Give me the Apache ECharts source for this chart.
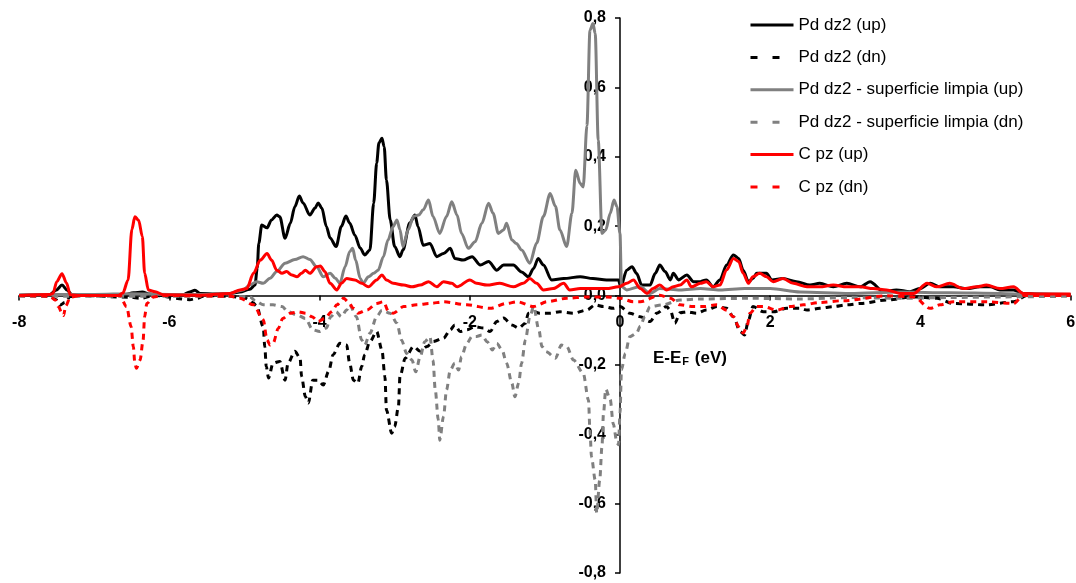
<!DOCTYPE html>
<html>
<head>
<meta charset="utf-8">
<title>DOS Pd dz2 / C pz</title>
<script src="https://cdn.jsdelivr.net/npm/echarts@6/dist/echarts.min.js"></script>
<style>
  html, body { margin: 0; padding: 0; background: #ffffff; }
  #chart { width: 1076px; height: 583px; }
</style>
</head>
<body>
<div id="chart"></div>
<script>
// Projected density of states, energies relative to the Fermi level (eV)
const xTicks = [-8, -6, -4, -2, 0, 2, 4, 6];
const yTicks = [-0.8, -0.6, -0.4, -0.2, 0, 0.2, 0.4, 0.6, 0.8];

const seriesNames = [
  'Pd dz2 (up)',
  'Pd dz2 (dn)',
  'Pd dz2 - superficie limpia (up)',
  'Pd dz2 - superficie limpia (dn)',
  'C pz (up)',
  'C pz (dn)'
];

// Pd dz2, spin up
const pdDz2Up = [
  [-8, 0], [-7.59, 0.003], [-7.51, 0.015], [-7.43, 0.03], [-7.36, 0.015], [-7.3, 0.003], [-7.19, 0],
  [-6.59, 0.002], [-6.48, 0.008], [-6.36, 0.01], [-6.26, 0.004], [-6.13, 0],
  [-5.82, 0.002], [-5.73, 0.01], [-5.66, 0.015], [-5.59, 0.006], [-5.39, 0.004], [-5.19, 0.006],
  [-5.06, 0.01], [-4.93, 0.018], [-4.86, 0.03], [-4.83, 0.08], [-4.81, 0.15], [-4.77, 0.203],
  [-4.7, 0.195], [-4.64, 0.218], [-4.57, 0.232], [-4.53, 0.227], [-4.46, 0.165], [-4.39, 0.208],
  [-4.33, 0.256], [-4.27, 0.287], [-4.22, 0.267], [-4.13, 0.232], [-4.06, 0.252], [-4.02, 0.267],
  [-3.97, 0.252], [-3.91, 0.199], [-3.86, 0.166], [-3.78, 0.141], [-3.71, 0.199], [-3.65, 0.229],
  [-3.6, 0.209], [-3.53, 0.174], [-3.46, 0.137], [-3.4, 0.117], [-3.33, 0.131], [-3.28, 0.266],
  [-3.24, 0.382], [-3.21, 0.44], [-3.17, 0.453], [-3.14, 0.429], [-3.11, 0.333], [-3.06, 0.218],
  [-3.0, 0.141], [-2.93, 0.112], [-2.89, 0.131], [-2.8, 0.209], [-2.73, 0.232], [-2.69, 0.199],
  [-2.62, 0.145], [-2.53, 0.15], [-2.44, 0.112], [-2.35, 0.121], [-2.26, 0.136], [-2.2, 0.107],
  [-2.09, 0.102], [-1.97, 0.112], [-1.86, 0.088], [-1.75, 0.098], [-1.64, 0.073], [-1.55, 0.088],
  [-1.42, 0.088], [-1.31, 0.068], [-1.22, 0.054], [-1.15, 0.078], [-1.09, 0.107], [-1.02, 0.088],
  [-0.91, 0.045], [-0.75, 0.049], [-0.53, 0.054], [-0.36, 0.049], [-0.18, 0.045], [-0.02, 0.045],
  [0.01, 0.025], [0.09, 0.073], [0.16, 0.083], [0.22, 0.064], [0.29, 0.03], [0.4, 0.03],
  [0.47, 0.064], [0.53, 0.088], [0.6, 0.069], [0.67, 0.045], [0.71, 0.064], [0.78, 0.045],
  [0.89, 0.059], [0.98, 0.04], [1.07, 0.04], [1.15, 0.045], [1.24, 0.025], [1.33, 0.045],
  [1.42, 0.088], [1.51, 0.117], [1.58, 0.107], [1.64, 0.073], [1.71, 0.04], [1.77, 0.049],
  [1.82, 0.064], [1.95, 0.064], [2.02, 0.045], [2.17, 0.049], [2.35, 0.04], [2.53, 0.03],
  [2.66, 0.035], [2.84, 0.025], [3.02, 0.035], [3.2, 0.025], [3.33, 0.04], [3.51, 0.011],
  [3.68, 0.016], [3.86, 0.011], [3.99, 0.02], [4.13, 0.035], [4.26, 0.025], [4.44, 0.025],
  [4.62, 0.02], [4.79, 0.025], [4.93, 0.025], [5.06, 0.016], [5.24, 0.016], [5.37, 0.006],
  [5.55, 0.004], [6, 0.003]
];

// Pd dz2, spin down
const pdDz2Dn = [
  [-8, 0], [-7.59, -0.002], [-7.51, -0.012], [-7.46, -0.028], [-7.39, -0.02], [-7.32, -0.003], [-7.19, 0],
  [-6.52, -0.005], [-6.39, -0.008], [-6.19, 0], [-5.73, -0.012], [-5.63, -0.008], [-5.53, 0],
  [-5.19, -0.002], [-4.99, -0.008], [-4.89, -0.02], [-4.84, -0.03], [-4.75, -0.09], [-4.73, -0.148],
  [-4.71, -0.205], [-4.68, -0.238], [-4.62, -0.195], [-4.53, -0.19], [-4.46, -0.244], [-4.42, -0.195],
  [-4.33, -0.161], [-4.26, -0.18], [-4.24, -0.233], [-4.19, -0.291], [-4.15, -0.31], [-4.09, -0.244],
  [-4.02, -0.244], [-3.95, -0.258], [-3.88, -0.219], [-3.82, -0.171], [-3.73, -0.138], [-3.64, -0.143],
  [-3.6, -0.195], [-3.55, -0.244], [-3.49, -0.253], [-3.44, -0.205], [-3.4, -0.171], [-3.33, -0.133],
  [-3.24, -0.104], [-3.17, -0.157], [-3.13, -0.234], [-3.11, -0.33], [-3.04, -0.397], [-3.0, -0.378],
  [-2.95, -0.32], [-2.93, -0.234], [-2.86, -0.181], [-2.75, -0.147], [-2.66, -0.161], [-2.57, -0.147],
  [-2.49, -0.133], [-2.35, -0.123], [-2.26, -0.099], [-2.2, -0.085], [-2.13, -0.104], [-2.04, -0.099],
  [-1.93, -0.09], [-1.82, -0.094], [-1.73, -0.104], [-1.64, -0.075], [-1.55, -0.065], [-1.44, -0.085],
  [-1.35, -0.094], [-1.26, -0.08], [-1.22, -0.051], [-1.15, -0.047], [-1.07, -0.051], [-0.93, -0.051],
  [-0.8, -0.047], [-0.62, -0.051], [-0.44, -0.042], [-0.33, -0.027], [-0.22, -0.032], [-0.09, -0.037],
  [0, -0.032], [0.13, -0.051], [0.27, -0.061], [0.4, -0.075], [0.49, -0.051], [0.62, -0.032],
  [0.67, -0.042], [0.73, -0.08], [0.8, -0.05], [0.89, -0.047], [1.02, -0.051], [1.15, -0.042],
  [1.29, -0.032], [1.42, -0.037], [1.51, -0.061], [1.6, -0.104], [1.66, -0.114], [1.71, -0.071],
  [1.77, -0.032], [1.91, -0.047], [2.04, -0.047], [2.22, -0.037], [2.4, -0.037], [2.49, -0.042],
  [2.66, -0.037], [2.84, -0.032], [3.02, -0.027], [3.2, -0.023], [3.55, -0.013], [3.91, -0.004],
  [4.22, -0.008], [4.44, -0.023], [4.88, -0.027], [5.24, -0.018], [5.42, 0], [6, 0]
];

// Pd dz2 on the clean surface, spin up
const cleanUp = [
  [-8, 0.002], [-7.0, 0.003], [-6.5, 0.005], [-6.0, 0.003], [-5.5, 0.003], [-5.2, 0.006],
  [-5.02, 0.016], [-4.93, 0.03], [-4.84, 0.04], [-4.75, 0.035], [-4.66, 0.05], [-4.57, 0.069],
  [-4.46, 0.093], [-4.33, 0.104], [-4.22, 0.112], [-4.13, 0.104], [-4.04, 0.083], [-3.95, 0.054],
  [-3.86, 0.064], [-3.79, 0.05], [-3.73, 0.035], [-3.66, 0.083], [-3.6, 0.126], [-3.56, 0.136],
  [-3.52, 0.102], [-3.46, 0.05], [-3.42, 0.035], [-3.35, 0.054], [-3.28, 0.064], [-3.22, 0.073],
  [-3.15, 0.112], [-3.09, 0.16], [-3.02, 0.199], [-2.97, 0.218], [-2.93, 0.19], [-2.89, 0.141],
  [-2.82, 0.19], [-2.75, 0.228], [-2.68, 0.232], [-2.62, 0.247], [-2.55, 0.275], [-2.49, 0.228],
  [-2.4, 0.179], [-2.31, 0.228], [-2.24, 0.27], [-2.17, 0.232], [-2.11, 0.179], [-2.02, 0.136],
  [-1.93, 0.155], [-1.84, 0.208], [-1.75, 0.266], [-1.69, 0.237], [-1.62, 0.179], [-1.55, 0.189],
  [-1.51, 0.208], [-1.44, 0.16], [-1.38, 0.15], [-1.31, 0.131], [-1.2, 0.093], [-1.11, 0.151],
  [-1.02, 0.228], [-0.93, 0.294], [-0.86, 0.257], [-0.8, 0.189], [-0.71, 0.141], [-0.64, 0.237],
  [-0.59, 0.361], [-0.53, 0.323], [-0.49, 0.313], [-0.44, 0.49], [-0.4, 0.765], [-0.36, 0.784],
  [-0.33, 0.755], [-0.29, 0.448], [-0.24, 0.179], [-0.19, 0.189], [-0.13, 0.237], [-0.08, 0.275],
  [-0.04, 0.256], [0, 0.179], [0.02, 0.026], [0.09, 0.016], [0.27, 0.026], [0.4, 0.006],
  [0.53, 0.02], [0.8, 0.016], [1.07, 0.02], [1.33, 0.016], [1.66, 0.02], [2.0, 0.02],
  [2.4, 0.01], [3.06, 0.006], [3.73, 0.01], [4.39, 0.008], [5.06, 0.006], [5.46, 0.003], [6, 0.002]
];

// Pd dz2 on the clean surface, spin down
const cleanDn = [
  [-8, -0.002], [-7.0, -0.002], [-6.0, -0.002], [-5.2, -0.002], [-4.93, -0.004], [-4.84, -0.018],
  [-4.75, -0.027], [-4.62, -0.027], [-4.5, -0.032], [-4.42, -0.047], [-4.3, -0.056], [-4.19, -0.066],
  [-4.09, -0.099], [-4.0, -0.104], [-3.91, -0.094], [-3.85, -0.061], [-3.78, -0.047], [-3.71, -0.061],
  [-3.64, -0.042], [-3.6, -0.027], [-3.51, -0.061], [-3.44, -0.128], [-3.4, -0.143], [-3.33, -0.109],
  [-3.24, -0.061], [-3.17, -0.042], [-3.06, -0.051], [-2.97, -0.08], [-2.91, -0.128], [-2.84, -0.167],
  [-2.77, -0.186], [-2.72, -0.22], [-2.66, -0.176], [-2.6, -0.133], [-2.53, -0.119], [-2.49, -0.186],
  [-2.46, -0.272], [-2.42, -0.358], [-2.4, -0.417], [-2.35, -0.349], [-2.31, -0.272], [-2.26, -0.215],
  [-2.2, -0.195], [-2.15, -0.215], [-2.11, -0.176], [-2.04, -0.138], [-1.97, -0.118], [-1.91, -0.118],
  [-1.84, -0.114], [-1.77, -0.133], [-1.7, -0.157], [-1.64, -0.138], [-1.57, -0.157], [-1.51, -0.195],
  [-1.44, -0.253], [-1.4, -0.292], [-1.35, -0.253], [-1.31, -0.195], [-1.26, -0.128], [-1.2, -0.061],
  [-1.15, -0.032], [-1.08, -0.099], [-1.04, -0.147], [-0.98, -0.162], [-0.86, -0.181], [-0.78, -0.143],
  [-0.71, -0.147], [-0.62, -0.186], [-0.49, -0.224], [-0.42, -0.301], [-0.4, -0.388], [-0.38, -0.465],
  [-0.33, -0.532], [-0.31, -0.627], [-0.27, -0.532], [-0.24, -0.435], [-0.22, -0.34], [-0.19, -0.27],
  [-0.13, -0.3], [-0.09, -0.37], [-0.04, -0.425], [-0.02, -0.43], [0, -0.34], [0.02, -0.214],
  [0.07, -0.167], [0.13, -0.119], [0.22, -0.109], [0.27, -0.089], [0.33, -0.061], [0.4, -0.032],
  [0.57, -0.027], [0.8, -0.013], [1.07, -0.01], [1.73, -0.008], [2.4, -0.01], [3.06, -0.006],
  [3.73, -0.008], [4.39, -0.006], [5.06, -0.004], [6, -0.002]
];

// C pz, spin up
const cPzUp = [
  [-8, 0], [-7.59, 0.003], [-7.55, 0.006], [-7.5, 0.04], [-7.43, 0.063], [-7.37, 0.036], [-7.32, 0.002],
  [-7.19, 0], [-6.68, 0], [-6.62, 0.007], [-6.55, 0.045], [-6.5, 0.19], [-6.46, 0.227], [-6.41, 0.217],
  [-6.36, 0.17], [-6.33, 0.065], [-6.28, 0.016], [-6.19, 0.011], [-6.08, 0.002], [-5.59, 0.001],
  [-5.19, 0.006], [-5.06, 0.016], [-4.97, 0.02], [-4.88, 0.064], [-4.79, 0.102], [-4.7, 0.121],
  [-4.64, 0.102], [-4.57, 0.073], [-4.5, 0.064], [-4.44, 0.069], [-4.37, 0.059], [-4.3, 0.054],
  [-4.24, 0.064], [-4.19, 0.073], [-4.13, 0.064], [-4.04, 0.083], [-3.99, 0.085], [-3.93, 0.069],
  [-3.86, 0.035], [-3.77, 0.016], [-3.71, 0.035], [-3.64, 0.049], [-3.53, 0.045], [-3.44, 0.035],
  [-3.35, 0.025], [-3.24, 0.045], [-3.17, 0.059], [-3.11, 0.045], [-3.02, 0.035], [-2.88, 0.03],
  [-2.77, 0.025], [-2.66, 0.03], [-2.55, 0.04], [-2.44, 0.025], [-2.35, 0.04], [-2.24, 0.035],
  [-2.17, 0.025], [-2.0, 0.045], [-1.91, 0.035], [-1.77, 0.03], [-1.6, 0.035], [-1.42, 0.025],
  [-1.29, 0.035], [-1.2, 0.049], [-1.11, 0.035], [-1.02, 0.016], [-0.89, 0.02], [-0.75, 0.035],
  [-0.67, 0.016], [-0.53, 0.02], [-0.36, 0.02], [-0.18, 0.02], [-0.02, 0.025], [0.09, 0.035],
  [0.18, 0.045], [0.27, 0.02], [0.36, 0.006], [0.44, 0.02], [0.53, 0.03], [0.62, 0.016],
  [0.71, 0.025], [0.8, 0.03], [0.89, 0.045], [0.95, 0.025], [1.07, 0.035], [1.15, 0.04],
  [1.24, 0.025], [1.33, 0.03], [1.42, 0.074], [1.51, 0.107], [1.58, 0.098], [1.64, 0.064],
  [1.71, 0.035], [1.77, 0.054], [1.86, 0.064], [1.95, 0.054], [2.04, 0.04], [2.17, 0.049],
  [2.31, 0.035], [2.49, 0.025], [2.66, 0.025], [2.84, 0.03], [3.02, 0.025], [3.2, 0.025],
  [3.37, 0.02], [3.55, 0.016], [3.73, 0.006], [3.91, 0.006], [4.09, 0.035], [4.22, 0.025],
  [4.39, 0.035], [4.57, 0.02], [4.75, 0.025], [4.88, 0.03], [5.06, 0.02], [5.24, 0.025],
  [5.37, 0.006], [5.59, 0.004], [6, 0.004]
];

// C pz, spin down
const cPzDn = [
  [-8, 0], [-7.59, -0.002], [-7.52, -0.013], [-7.48, -0.032], [-7.43, -0.05], [-7.41, -0.058],
  [-7.38, -0.03], [-7.32, -0.005], [-7.19, 0], [-6.66, 0], [-6.57, -0.032], [-6.51, -0.09],
  [-6.48, -0.148], [-6.46, -0.195], [-6.44, -0.21], [-6.39, -0.186], [-6.35, -0.128], [-6.33, -0.061],
  [-6.3, -0.023], [-6.21, -0.004], [-6.09, 0], [-5.19, -0.002], [-5.06, -0.008], [-4.88, -0.027],
  [-4.75, -0.07], [-4.7, -0.128], [-4.66, -0.143], [-4.62, -0.138], [-4.55, -0.095], [-4.49, -0.066],
  [-4.39, -0.051], [-4.28, -0.047], [-4.19, -0.051], [-4.1, -0.061], [-4.02, -0.075], [-3.93, -0.066],
  [-3.84, -0.047], [-3.77, -0.027], [-3.68, -0.008], [-3.62, -0.018], [-3.55, -0.037], [-3.49, -0.051],
  [-3.37, -0.042], [-3.24, -0.023], [-3.15, -0.018], [-3.08, -0.047], [-3.02, -0.051], [-2.88, -0.032],
  [-2.71, -0.027], [-2.53, -0.023], [-2.35, -0.018], [-2.04, -0.027], [-1.73, -0.037], [-1.51, -0.023],
  [-1.37, -0.018], [-1.15, -0.032], [-0.97, -0.018], [-0.71, -0.008], [-0.44, -0.004], [-0.18, -0.004],
  [0, -0.008], [0.18, -0.018], [0.27, -0.018], [0.53, 0.001], [0.67, -0.008], [0.8, -0.027],
  [0.98, -0.032], [1.11, -0.032], [1.29, -0.027], [1.42, -0.042], [1.51, -0.061], [1.58, -0.09],
  [1.64, -0.108], [1.69, -0.09], [1.73, -0.051], [1.82, -0.032], [1.91, -0.032], [2.09, -0.042],
  [2.26, -0.032], [2.44, -0.027], [2.66, -0.02], [2.97, -0.015], [3.55, -0.001], [3.91, -0.004],
  [4.13, -0.037], [4.26, -0.027], [4.44, -0.018], [4.88, -0.018], [5.24, -0.023], [5.37, 0], [6, 0]
];

const seriesValues = [pdDz2Up, pdDz2Dn, cleanUp, cleanDn, cPzUp, cPzDn];
const seriesColors = ['#000000', '#000000', '#808080', '#808080', '#ff0000', '#ff0000'];
const seriesDashed = [false, true, false, true, false, true];

const FONT = '"Liberation Sans", Arial, Helvetica, sans-serif';
const fmt = v => v.toFixed(1).replace('.', ',').replace('-0,0', '0,0');
const xFmt = v => String(v);

// Plot area in pixels; the two axes cross at the origin (E = EF, DOS = 0)
const GRID = { left: 19.2, right: 5.4, top: 18, bottom: 10 };
const W = 1076, H = 583;
const xMin = xTicks[0], xMax = xTicks[xTicks.length - 1];
const yMin = yTicks[0], yMax = yTicks[yTicks.length - 1];
const plotW = W - GRID.left - GRID.right;
const plotH = H - GRID.top - GRID.bottom;
const xAxisShift = plotH * (0 - yMin) / (yMax - yMin);   // bottom edge -> y = 0
const yAxisShift = plotW * (0 - xMin) / (xMax - xMin);   // left edge -> x = 0

const chart = echarts.init(document.getElementById('chart'), null, { renderer: 'canvas' });

const series = seriesNames.map((name, i) => ({
  name: name,
  type: 'line',
  data: seriesValues[i],
  showSymbol: false,
  symbol: 'none',
  smooth: 0.3,
  smoothMonotone: 'x',
  animation: false,
  lineStyle: {
    color: seriesColors[i],
    width: 3,
    type: seriesDashed[i] ? [6, 5] : 'solid'
  },
  itemStyle: { color: seriesColors[i] },
  emphasis: { disabled: true }
}));

const legendData = seriesNames.map((name, i) => ({
  name: name,
  itemStyle: { opacity: 0, borderWidth: 0 },
  lineStyle: seriesDashed[i] ? { type: [7, 15], width: 3 } : { width: 3 }
}));

chart.setOption({
  backgroundColor: '#ffffff',
  animation: false,
  grid: {
    left: GRID.left, right: GRID.right, top: GRID.top, bottom: GRID.bottom,
    containLabel: false, outerBoundsMode: 'none'
  },
  legend: {
    data: legendData,
    orient: 'vertical',
    left: 749,
    top: 16.5,
    padding: 0,
    itemWidth: 43,
    itemHeight: 17,
    itemGap: 15.4,
    selectedMode: false,
    itemStyle: { opacity: 0, borderWidth: 0 },
    textStyle: { fontFamily: FONT, fontSize: 17, color: '#000000' }
  },
  xAxis: {
    type: 'value',
    min: xMin,
    max: xMax,
    interval: 2,
    position: 'bottom',
    offset: -xAxisShift,
    axisLine: { onZero: false, lineStyle: { color: '#000000', width: 1.5 } },
    axisTick: { show: true, length: 5, lineStyle: { color: '#000000', width: 1.5 } },
    axisLabel: {
      margin: 19,
      fontFamily: FONT, fontSize: 16, fontWeight: 'bold', color: '#000000',
      formatter: xFmt
    },
    splitLine: { show: false }
  },
  yAxis: {
    type: 'value',
    min: yMin,
    max: yMax,
    interval: 0.2,
    position: 'left',
    offset: -yAxisShift,
    axisLine: { show: true, onZero: false, lineStyle: { color: '#000000', width: 1.5 } },
    axisTick: { show: true, length: 5, lineStyle: { color: '#000000', width: 1.5 } },
    axisLabel: {
      margin: 14,
      fontFamily: FONT, fontSize: 16, fontWeight: 'bold', color: '#000000',
      formatter: fmt
    },
    splitLine: { show: false }
  },
  graphic: [{
    type: 'text',
    left: 653,
    top: 349,
    style: {
      text: '{a|E-E}{b|F}{a| (eV)}',
      rich: {
        a: { fontFamily: FONT, fontSize: 17, fontWeight: 'bold', fill: '#000000', lineHeight: 19 },
        b: { fontFamily: FONT, fontSize: 11, fontWeight: 'bold', fill: '#000000', padding: [7, 1, 0, 1], lineHeight: 19 }
      }
    }
  }],
  series: series
});
</script>
</body>
</html>
